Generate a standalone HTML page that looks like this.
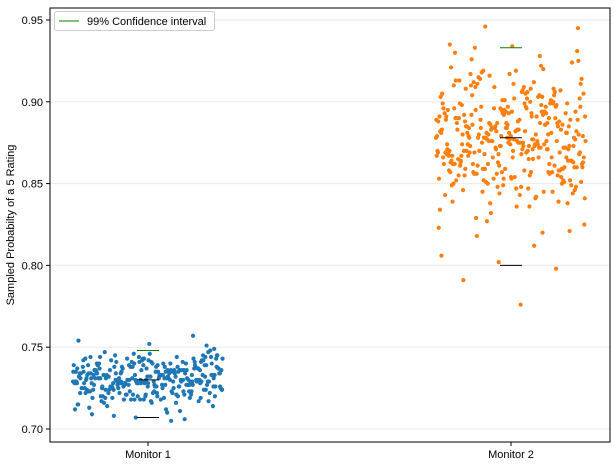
<!DOCTYPE html>
<html><head><meta charset="utf-8"><style>
body{margin:0;background:#fff;font-family:"Liberation Sans",sans-serif;}
svg text{font-family:"Liberation Sans",sans-serif;font-size:11px;fill:#000;}
</style></head><body>
<svg id="chart" width="615" height="466" xmlns="http://www.w3.org/2000/svg"></svg>
<script>
const categories = ["Monitor 1", "Monitor 2"];
const yTicks = [0.70, 0.75, 0.80, 0.85, 0.90, 0.95];
const yTickLabels = ["0.70", "0.75", "0.80", "0.85", "0.90", "0.95"];
// sampled values (x1000)
const monitor1 = [729,735,722,741,718,731,726,738,733,720,744,727,730,715,736,724,739,732,728,721,743,734,725,719,737,730,742,716,729,733,723,740,727,731,712,736,726,745,721,734,729,718,738,732,725,741,728,722,735,730,747,717,733,727,739,724,731,714,736,729,743,720,734,726,738,731,723,740,728,735,719,732,726,744,730,721,737,733,716,729,741,725,734,727,748,722,736,730,718,739,731,724,742,728,733,711,737,726,735,720,743,729,732,723,738,727,746,719,734,730,725,740,731,717,736,728,744,722,733,726,739,729,721,735,731,742,724,737,713,730,727,745,733,720,738,728,734,725,741,729,716,736,731,723,743,727,732,719,739,730,726,735,749,722,737,729,733,715,740,728,724,742,731,736,721,734,727,747,730,718,738,732,725,744,729,735,723,741,728,710,736,733,720,739,730,726,743,731,717,737,728,734,722,745,729,732,724,740,727,736,719,733,730,742,725,738,728,714,735,731,721,746,729,734,726,739,732,723,741,728,737,718,733,730,744,725,736,729,722,740,731,727,738,735,712,732,729,743,724,736,728,720,739,731,757,707,754,705,708,751,752,709,706,730,726,733,724,737,728,735,721,731,740,727,734,719,738,729,732,725,742,730,723,736,728,745,733,726,739,720,731,729,734,717,741,727,736,730,724,738,732,728,743,722,735,729,731,726,740,733,718,737,730,725,744,728,734,723];
const monitor2 = [878,865,892,851,884,870,903,859,889,875,846,897,868,881,912,856,873,894,862,887,838,879,905,867,883,853,891,872,918,860,876,899,845,885,869,908,857,881,893,864,874,827,902,871,888,855,896,866,880,915,849,877,890,862,884,841,906,873,859,894,868,922,852,882,875,898,861,887,834,871,909,864,879,850,893,876,914,858,885,869,901,843,874,889,863,919,855,881,896,867,836,904,872,886,857,892,878,925,848,870,898,861,883,873,911,852,866,890,880,832,905,869,884,859,895,874,928,845,877,888,863,900,871,823,893,856,881,917,867,886,850,897,875,908,839,879,862,891,870,924,854,883,899,866,876,847,910,872,887,858,894,868,931,843,880,890,863,903,877,829,885,853,896,871,916,860,882,874,907,849,889,866,897,878,836,913,857,884,870,900,862,893,875,921,845,881,868,906,855,887,873,899,841,878,864,911,852,890,876,825,902,869,886,859,895,872,919,848,883,867,904,856,891,877,933,838,874,862,897,880,851,909,870,888,857,893,876,914,844,882,865,901,853,889,873,926,860,878,935,820,946,945,776,791,798,802,806,812,818,821,934,930,871,886,863,897,879,854,892,868,904,875,846,883,861,899,872,888,857,912,866,881,849,894,877,869,907,859,885,873,896,842,880,864,902,887,856,876,891,870,917,852,884,867,898,878,860,889,874,906,848,882,865,895,871,854,910,876,887,862,899,881,858,893,869,903,884,873,847,890,866,909,879,855,886,872,897,863,920,851,880,868,892,876,844,905,874,861,889,870,913,857,883,866,896,878,850,901,871,887,859,894,875,864,908,882,853,891,869,899,877,839,886,862,911,873,885,858,895];
const ciUpper = [0.748, 0.933];
const ciMean = [0.730, 0.878];
const ciLower = [0.707, 0.800];
const seriesColors = ["#1f77b4", "#ff7f0e"];

const svg = document.getElementById('chart');
const NS = "http://www.w3.org/2000/svg";
const L=50, R=610, T=8, B=442;
function y(v){ return 429 - (v-0.70)/0.25*409; }
const catX = [148, 511];
function x(i){ return catX[i]; }
function mk(tag, attrs, parent){ const e=document.createElementNS(NS,tag); for(const k in attrs) e.setAttribute(k,attrs[k]); (parent||svg).appendChild(e); return e; }

yTicks.forEach((t,i)=>{
  const g = mk('line',{x1:L,x2:R,y1:y(t),y2:y(t),stroke:'#ebebeb','stroke-width':1});
  
  
  const tk = mk('line',{x1:L-4,x2:L,y1:y(t),y2:y(t),stroke:'#000'});
  
  
  const lb = mk('text',{x:L-7,y:y(t)+4,'text-anchor':'end'});
  lb.textContent = yTickLabels[i];
  
  
});
categories.forEach((c,i)=>{
  const tk = mk('line',{x1:x(i),x2:x(i),y1:B,y2:B+4,stroke:'#000'});
  
  
  const lb = mk('text',{x:x(i),y:B+16,'text-anchor':'middle'});
  lb.textContent = c;
  
  
});

[monitor1, monitor2].forEach((arr,si)=>{
  const g = mk('g',{fill:seriesColors[si]});
  
  
  arr.forEach((v,i)=>{
    const off = (((i*0.618034)%1)-0.5)*150;
    const p = mk('circle',{cx:x(si)+off, cy:y(v/1000), r:2.1}, g);
    
    
  });
});

categories.forEach((c,i)=>{
  const w = 11;
  const u = mk('line',{x1:x(i)-w,x2:x(i)+w,y1:y(ciUpper[i]),y2:y(ciUpper[i]),stroke:'green','stroke-width':1});
  
  
  const m = mk('line',{x1:x(i)-w,x2:x(i)+w,y1:y(ciMean[i]),y2:y(ciMean[i]),stroke:'#000','stroke-width':1});
  
  
  const lo = mk('line',{x1:x(i)-w,x2:x(i)+w,y1:y(ciLower[i]),y2:y(ciLower[i]),stroke:'#000','stroke-width':1});
  
  
});

const fr = mk('rect',{x:L,y:T,width:R-L,height:B-T,fill:'none',stroke:'#000','stroke-width':1});



const yt = mk('text',{x:0,y:0,'text-anchor':'middle',transform:'translate(14,225) rotate(-90)'});
yt.textContent = 'Sampled Probabilty of a 5 Rating';



const lg = mk('g',{});


mk('rect',{x:54.5,y:11.5,width:160,height:19,rx:2,fill:'#fff',stroke:'#ccc'},lg);
const ll = mk('line',{x1:59,x2:79,y1:21,y2:21,stroke:'green'},lg);


const lt = mk('text',{x:87,y:25},lg);
lt.textContent = '99% Confidence interval';


</script>
</body></html>
